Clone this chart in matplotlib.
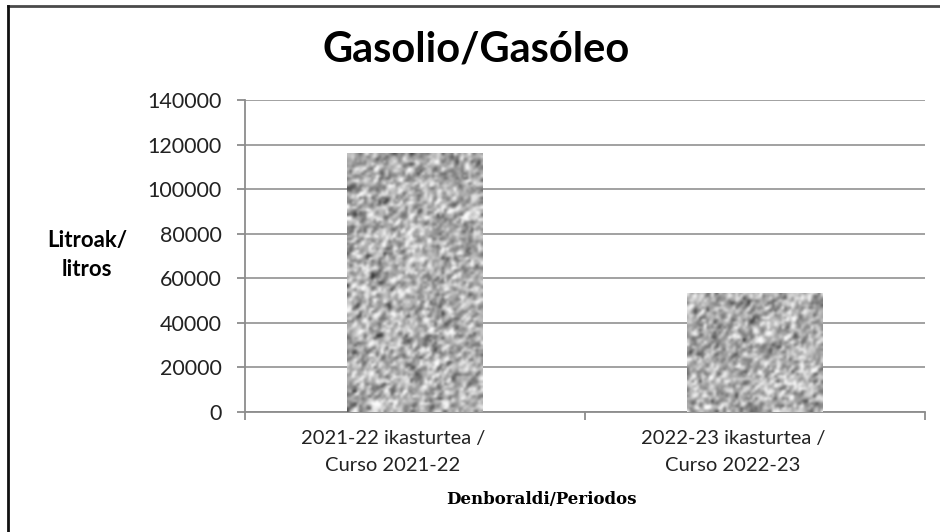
import numpy as np
import matplotlib.pyplot as plt
from matplotlib.lines import Line2D
from matplotlib.transforms import ScaledTranslation

# datuak / data
categorias = ['2021-22 ikasturtea /\nCurso 2021-22', '2022-23 ikasturtea /\nCurso 2022-23']
litros = [116000, 53500]
yticks = [0, 20000, 40000, 60000, 80000, 100000, 120000, 140000]

fig = plt.figure(figsize=(9.4, 5.32), dpi=100)
ax = fig.add_axes([245 / 940, 1 - 412 / 532, 680 / 940, 312 / 532])

x = np.arange(len(categorias))
bars = ax.bar(x, litros, width=0.4, color='none', zorder=3)

ax.set_xlim(-0.5, 1.5)
ax.set_ylim(0, 140000)

# granite-like texture for the bars (fill only), grain ~2.5 px
rng = np.random.default_rng(7)
for b in bars:
    h_px = b.get_height() / 140000 * 312
    w_px = b.get_width() / 2 * 680
    nr, nc = int(h_px / 2.4), int(w_px / 2.4)
    noise = rng.normal(0, 1, (nr, nc))
    noise = (noise + np.roll(noise, 1, 0) + np.roll(noise, 1, 1)) / 3
    img = 0.69 + 0.16 * noise / noise.std()
    im = ax.imshow(img, cmap='gray', vmin=0, vmax=1, aspect='auto',
                   interpolation='bicubic', zorder=3,
                   extent=[b.get_x(), b.get_x() + b.get_width(), 0, b.get_height()])
    im.set_clip_path(b)

ax.set_yticks(yticks)
ax.set_yticklabels([str(v) for v in yticks])
ax.set_xticks(x)
ax.set_xticklabels(categorias, linespacing=1.7)
ax.set_xticks([-0.5, 0.5, 1.5], minor=True)
ax.grid(axis='y', color='#9a9a9a', linewidth=1.3, zorder=0)
ax.set_axisbelow(True)

for s in ['top', 'right']:
    ax.spines[s].set_visible(False)
for s in ['left', 'bottom']:
    ax.spines[s].set_color('#8c8c8c')
    ax.spines[s].set_linewidth(1.3)

ax.tick_params(axis='y', length=6, width=1.3, color='#8c8c8c', pad=11,
               labelsize=15.5, labelcolor='#222222')
ax.tick_params(axis='x', which='major', length=0, pad=13, labelsize=14.5,
               labelcolor='#222222')
ax.tick_params(axis='x', which='minor', length=6, width=1.3, color='#8c8c8c')
for lab in ax.get_xticklabels() + ax.get_yticklabels():
    lab.set_family('Lato')
shift = ScaledTranslation(-22 / 100, 0, fig.dpi_scale_trans)
for lab in ax.get_xticklabels():
    lab.set_transform(lab.get_transform() + shift)

fig.text(476 / 940, 1 - 50 / 532, 'Gasolio/Gasóleo', ha='center', va='center',
         fontsize=30, fontweight='bold', family='Lato')
fig.text(87 / 940, 1 - 255 / 532, 'Litroak/\nlitros', ha='center', va='center',
         fontsize=16, fontweight='bold', family='Lato', linespacing=1.45)
fig.text(541 / 940, 1 - 499 / 532, 'Denboraldi/Periodos', ha='center', va='center',
         fontsize=12, fontweight='bold', family='DejaVu Serif')

# marco: goiko eta ezkerreko lerroak
fig.lines.append(Line2D([8 / 940, 1], [1 - 6 / 532, 1 - 6 / 532], transform=fig.transFigure,
                        color='#4a4a4a', linewidth=2))
fig.lines.append(Line2D([8 / 940, 8 / 940], [0, 1 - 6 / 532], transform=fig.transFigure,
                        color='#111111', linewidth=2))

fig.savefig('out.png', dpi=100)
